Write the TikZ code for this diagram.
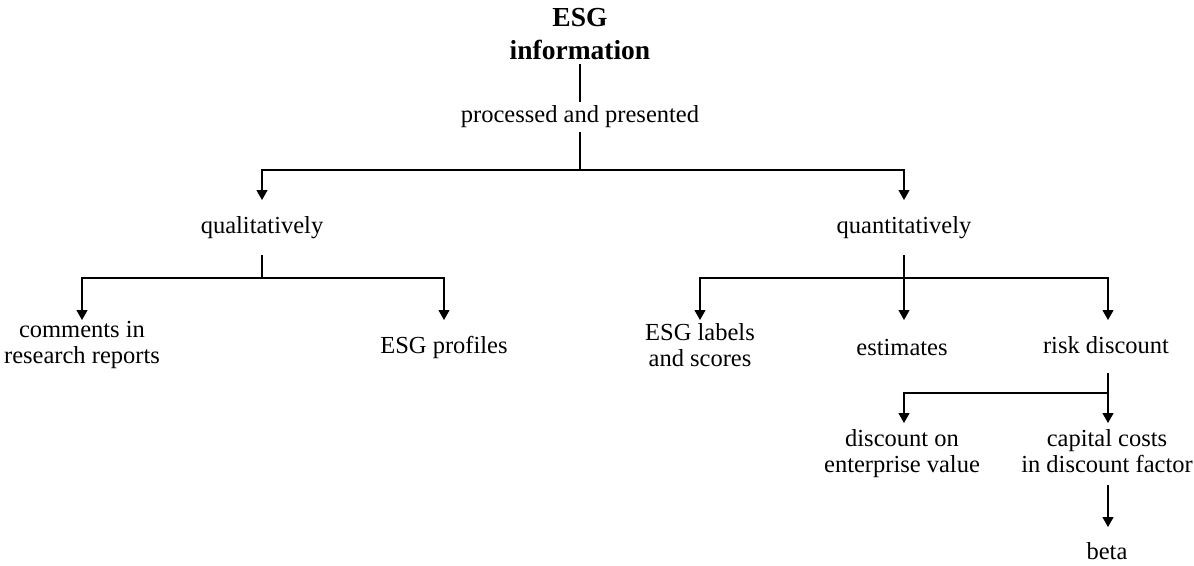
\documentclass[tikz,border=0pt]{standalone}
\usepackage{fontspec}
\setmainfont{Liberation Serif}
\usetikzlibrary{arrows.meta,calc}
\begin{document}
\begin{tikzpicture}[x=1pt,y=-1pt,
  lbl/.style={font=\fontsize{24.5}{26}\selectfont, align=center, inner sep=0pt},
  head/.style={font=\fontsize{27.5}{33}\selectfont\bfseries, align=center, inner sep=0pt},
  ln/.style={line width=1.2pt},
  arr/.style={ln,-{Triangle[length=10pt,width=11pt]}}]
\useasboundingbox (0,0) rectangle (1194,565);

% text nodes
\node[head] (esg)   at (580,34)    {ESG\\information};
\node[lbl]  (proc)  at (580,117)   {processed and presented};
\node[lbl]  (qual)  at (262,228)   {qualitatively};
\node[lbl]  (quant) at (904,228)   {quantitatively};
\node[lbl]  (comm)  at (82,345)    {comments in\\research reports};
\node[lbl]  (prof)  at (444,347.5) {ESG profiles};
\node[lbl]  (labs)  at (700,345)   {ESG labels\\and scores};
\node[lbl]  (est)   at (902,347.5) {estimates};
\node[lbl]  (risk)  at (1106,345)  {risk discount};
\node[lbl]  (disc)  at (902,453.5) {discount on\\enterprise value};
\node[lbl]  (cap)   at (1107,451)  {capital costs\\in discount factor};
\node[lbl]  (beta)  at (1107,551)  {beta};

% row levels for line ends
\coordinate (a0) at (0,64);   \coordinate (a1) at (0,102);
\coordinate (a2) at (0,132);  \coordinate (h0) at (0,170);
\coordinate (r1) at (0,200);  \coordinate (s1) at (0,255);
\coordinate (h1) at (0,278);  \coordinate (r2) at (0,320);
\coordinate (s2) at (0,373);  \coordinate (h2) at (0,393);
\coordinate (r3) at (0,423);  \coordinate (s3) at (0,485);
\coordinate (r4) at (0,527);

% junctions
\coordinate (j0) at (proc |- h0);
\coordinate (j1) at (qual |- h1);
\coordinate (j2) at (quant |- h1);
\coordinate (j3) at (1108,393);

% connectors
\draw[ln] (esg |- a0) -- (proc |- a1);
\draw[ln] (proc |- a2) -- (j0);
\draw[arr] (j0) -| (qual |- r1);
\draw[arr] (j0) -| (quant |- r1);

\draw[ln] (qual |- s1) -- (j1);
\draw[arr] (j1) -| (comm |- r2);
\draw[arr] (j1) -| (prof |- r2);

\draw[arr] (quant |- s1) -- (quant |- r2);
\draw[arr] (j2) -| (labs |- r2);
\draw[arr] (j2) -| ([xshift=2pt]risk.north |- r2);

\draw[ln] ([xshift=2pt]risk.south |- s2) -- (j3);
\draw[arr] (j3) -| ([xshift=2pt]disc.north |- r3);
\draw[arr] (j3) -- (j3 |- r3);
\draw[arr] (j3 |- s3) -- (j3 |- r4);
\end{tikzpicture}
\end{document}
